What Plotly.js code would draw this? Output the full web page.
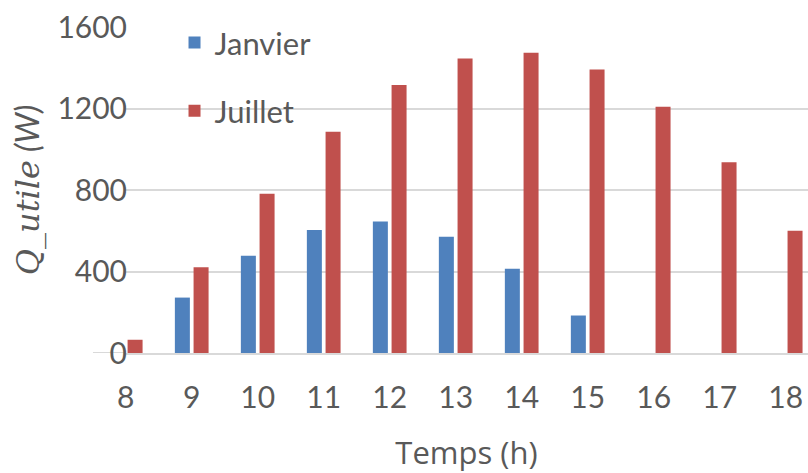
<!DOCTYPE html>
<html>
<head>
<meta charset="utf-8">
<script src="https://cdn.plot.ly/plotly-3.0.1.min.js"></script>
<style>html,body{margin:0;padding:0;background:#fff;}#chart{width:808px;height:473px;}</style>
</head>
<body>
<div id="chart"></div>
<script>
// Data
const hours = [8, 9, 10, 11, 12, 13, 14, 15, 16, 17, 18];
const hourLabels = ["8", "9", "10", "11", "12", "13", "14", "15", "16", "17", "18"];
const janvier = [0, 272, 477, 604, 645, 570, 413, 184, 0, 0, 0];
const juillet = [65, 421, 781, 1086, 1315, 1446, 1474, 1392, 1209, 936, 600];
const yTicks = [0, 400, 800, 1200, 1600];
const yTickLabels = ["0", "400", "800", "1200", "1600"];

const textColor = '#595959';
const fontFam = 'Lato, "Open Sans", sans-serif';

const traces = [
  {type: 'bar', name: 'Janvier', x: hours, y: janvier, marker: {color: '#4F81BD'}, legendgroup: 'a'},
  {type: 'bar', name: 'Juillet', x: hours, y: juillet, marker: {color: '#C0504D'}, legendgroup: 'b'}
];

const layout = {
  width: 808, height: 473,
  margin: {l: 125, r: 0, t: 27, b: 120, pad: 0},
  paper_bgcolor: '#fff', plot_bgcolor: '#fff',
  font: {family: fontFam, size: 30, color: textColor},
  barmode: 'group', bargap: 0.433, bargroupgap: 0.198,
  showlegend: true,
  legend: {x: 0.0725, xanchor: 'left', y: 1.034, yanchor: 'top', bgcolor: 'rgba(0,0,0,0)',
           traceorder: 'grouped', tracegroupgap: 25, font: {family: fontFam, size: 31, color: textColor}},
  xaxis: {
    type: 'linear', range: [7.989, 18.338], tickmode: 'array', tickvals: hours, ticktext: hourLabels,
    showgrid: false, zeroline: false, showline: true, linecolor: '#d9d9d9', linewidth: 2,
    ticks: '', ticklabelstandoff: 17,
    tickfont: {family: fontFam, size: 30, color: textColor},
    title: {text: 'Temps (h)', standoff: 30, font: {family: '"Open Sans", Lato, sans-serif', size: 31, color: textColor}}
  },
  yaxis: {
    range: [0, 1600], tickmode: 'array', tickvals: yTicks, ticktext: yTickLabels,
    showgrid: true, gridcolor: '#d9d9d9', gridwidth: 2, zeroline: false, showline: false,
    ticks: '', ticklabelstandoff: -3,
    tickfont: {family: fontFam, size: 30, color: textColor},
    title: {text: '<span style="font-family:\'DejaVu Serif\', serif;font-style:italic">Q_utile</span> <i>(W)</i>',
            standoff: 8, font: {family: fontFam, size: 32, color: textColor}}
  },
  shapes: [
    {type: 'line', xref: 'paper', yref: 'y', x0: -0.0469, x1: 0, y0: 0, y1: 0, layer: 'below',
     line: {color: '#d9d9d9', width: 2}}
  ]
};

Plotly.newPlot('chart', traces, layout, {displayModeBar: false, staticPlot: true});
</script>
</body>
</html>
